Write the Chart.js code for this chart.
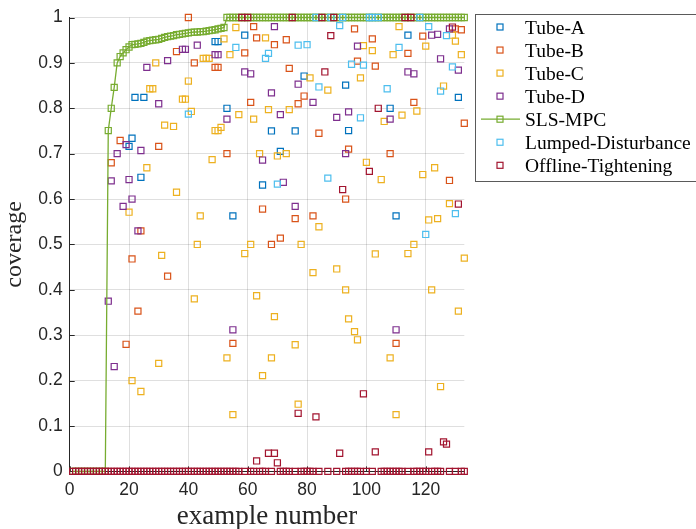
<!DOCTYPE html>
<html><head><meta charset="utf-8">
<script src="https://cdn.jsdelivr.net/npm/chart.js@4.4.1/dist/chart.umd.min.js"></script>
<style>html,body{margin:0;padding:0;background:#fff;overflow:hidden}canvas{display:block}</style>
</head><body>
<canvas id="c" width="696" height="529"></canvas>
<script>
// ---------- data ----------
const seriesNames = ['Tube-A','Tube-B','Tube-C','Tube-D','SLS-MPC','Lumped-Disturbance','Offline-Tightening'];
const seriesColors = ['#0072BD','#D95319','#EDB120','#7E2F8E','#77AC30','#4DBEEE','#A2142F'];
const xTickValues = [0,20,40,60,80,100,120];
const yTickValues = [0,0.1,0.2,0.3,0.4,0.5,0.6,0.7,0.8,0.9,1];
const yTickLabels = ['0','0.1','0.2','0.3','0.4','0.5','0.6','0.7','0.8','0.9','1'];
const exampleNumbers = Array.from({length:133},(_,i)=>i+1);

const tubeA = [[20,0.716],[21,0.734],[22,0.824],[24,0.648],[25,0.824],[49,0.947],[50,0.947],[53,0.80],[55,0.563],[59,0.961],[65,0.631],[68,0.75],[71,0.705],[76,0.75],[79,0.871],[93,0.851],[94,0.751],[108,0.80],[110,0.563],[114,0.961],[131,0.824]];
const tubeB = [[14,0.68],[17,0.729],[19,0.28],[21,0.468],[23,0.353],[24,0.53],[30,0.716],[33,0.43],[36,0.925],[40,1.0],[42,0.90],[49,0.89],[50,0.89],[53,0.70],[55,0.282],[59,0.922],[61,0.813],[62,0.98],[63,0.955],[65,0.578],[68,0.50],[69,0.94],[71,0.514],[73,0.951],[74,0.888],[76,0.557],[77,0.81],[79,0.827],[82,0.563],[84,0.745],[93,0.60],[94,0.71],[96,0.975],[97,0.904],[102,0.953],[103,0.893],[108,0.70],[110,0.282],[114,0.921],[116,0.813],[119,0.959],[128,0.641],[130,0.975],[132,0.973],[133,0.767]];
const tubeC = [[20,0.571],[21,0.20],[24,0.176],[26,0.669],[27,0.843],[28,0.843],[29,0.90],[30,0.238],[31,0.476],[32,0.763],[35,0.76],[36,0.615],[38,0.82],[39,0.82],[40,0.86],[41,0.793],[42,0.38],[43,0.50],[44,0.563],[45,0.91],[46,0.91],[47,0.91],[48,0.687],[49,0.751],[50,0.751],[51,0.758],[52,0.953],[53,0.25],[54,0.918],[55,0.125],[56,0.978],[57,0.786],[59,0.48],[61,0.50],[62,0.776],[63,0.387],[64,0.70],[65,0.211],[66,0.955],[67,0.797],[68,0.25],[69,0.341],[70,0.695],[73,0.70],[74,0.797],[76,0.279],[77,0.148],[78,0.50],[81,0.867],[82,0.438],[84,0.539],[87,0.84],[90,0.446],[93,0.40],[94,0.336],[96,0.308],[97,0.29],[98,0.867],[99,0.938],[100,0.681],[102,0.927],[103,0.479],[105,0.643],[106,0.771],[108,0.25],[109,0.918],[110,0.125],[111,0.98],[112,0.785],[114,0.48],[116,0.50],[117,0.794],[119,0.654],[120,0.937],[121,0.554],[122,0.40],[123,0.669],[124,0.557],[125,0.187],[126,0.849],[128,0.59],[129,0.961],[130,0.948],[131,0.353],[132,0.918],[133,0.47]];
const tubeD = [[13,0.375],[14,0.64],[15,0.231],[16,0.70],[18,0.584],[19,0.72],[20,0.643],[21,0.60],[23,0.53],[24,0.707],[26,0.89],[30,0.81],[33,0.905],[38,0.93],[39,0.93],[43,0.939],[49,0.918],[50,0.918],[53,0.776],[55,0.312],[59,0.88],[61,0.876],[65,0.686],[68,0.834],[69,0.98],[71,0.786],[72,0.637],[76,0.584],[77,0.853],[82,0.813],[90,0.78],[93,0.70],[94,0.792],[97,0.937],[108,0.776],[110,0.312],[114,0.88],[116,0.876],[122,0.961],[124,0.963],[125,0.909],[128,0.975],[131,0.884]];
const slsMpc = [0,0,0,0,0,0,0,0,0,0,0,0,0.751,0.80,0.846,0.90,0.914,0.922,0.929,0.935,0.94,0.941,0.942,0.943,0.945,0.948,0.949,0.95,0.951,0.952,0.954,0.956,0.958,0.959,0.96,0.962,0.963,0.964,0.965,0.966,0.967,0.968,0.968,0.969,0.969,0.97,0.971,0.972,0.973,0.975,0.976,0.978,
1,1,1,1,1,1,1,1,1,1,1,1,1,1,1,1,1,1,1,1,1,1,1,1,1,1,1,1,1,1,1,1,1,1,1,1,1,1,1,1,1,1,1,1,1,1,1,1,1,1,1,1,1,1,1,1,1,1,1,1,1,1,1,1,1,1,1,1,1,1,1,1,1,1,1,1,1,1,1,1,1];
const lumped = [[40,0.787],[56,0.934],[66,0.91],[67,0.921],[70,0.633],[77,0.939],[80,0.94],[83,1],[84,0.847],[87,0.646],[88,1],[91,0.982],[92,1],[95,0.897],[98,0.779],[99,0.895],[101,1],[102,1],[104,1],[107,0.843],[111,0.934],[118,1],[120,0.522],[121,0.98],[125,0.838],[127,0.96],[129,0.891],[130,0.568]];
const offline = [0,0,0,0,0,0,0,0,0,0,0,0,0,0,0,0,0,0,0,0,0,0,0,0,0,0,0,0,0,0,0,0,0,0,0,0,0,0,0,0,0,0,0,0,0,0,0,0,0,0,0,0,0,0,0,0,0,
1,0,1,0,0,0.023,0,0,0,0.04,0,0.04,0.019,0,0,0,0,1,0,0.128,0,0,0,0,0,0.12,0,1,0.88,0,0.96,1,0,0.04,0.621,0,0,0,0,0,0,0.171,0,0.661,0,0.043,0.80,
0,0,0,0,0,0,0,0,1,0,1,0,0,0,0,0,0.043,0,0,0,0,0.065,0.06,0,0.979,0,0.589,0,0];

// ---------- build ----------
const fromPairs = p => p.map(([x,y]) => ({x, y}));
const fromFull = v => v.map((y,i) => ({x: exampleNumbers[i], y}));
const seriesData = [fromPairs(tubeA), fromPairs(tubeB), fromPairs(tubeC), fromPairs(tubeD), fromFull(slsMpc), fromPairs(lumped), fromFull(offline)];

const datasets = seriesNames.map((name, k) => ({
  label: name,
  data: seriesData[k],
  showLine: name === 'SLS-MPC',
  borderColor: seriesColors[k],
  borderWidth: 1.3,
  backgroundColor: 'rgba(0,0,0,0)',
  pointStyle: 'rect',
  pointRadius: 4.3,
  pointHoverRadius: 4.3,
  pointBorderWidth: 1.2,
  pointBorderColor: seriesColors[k],
  pointBackgroundColor: 'rgba(0,0,0,0)',
  tension: 0,
  clip: false,
  order: seriesNames.length - k
}));

const AX = '#262626';
const GRID = 'rgba(38,38,38,0.15)';

const tickMarks = {
  id: 'tickMarks',
  beforeDatasetsDraw(chart) {
    const {ctx, chartArea: a, scales: {x, y}} = chart;
    ctx.save();
    ctx.strokeStyle = AX; ctx.lineWidth = 1;
    ctx.beginPath();
    xTickValues.forEach(v => { const px = Math.round(x.getPixelForValue(v)) + 0.5; ctx.moveTo(px, a.bottom); ctx.lineTo(px, a.bottom - 5); });
    yTickValues.forEach(v => { const py = Math.round(y.getPixelForValue(v)) + 0.5; ctx.moveTo(a.left, py); ctx.lineTo(a.left + 5, py); });
    ctx.stroke();
    ctx.restore();
  }
};

const matlabLegend = {
  id: 'matlabLegend',
  afterDraw(chart) {
    const ctx = chart.ctx;
    ctx.save();
    ctx.fillStyle = '#fff';
    ctx.fillRect(475.5, 14.5, 240, 167);
    ctx.strokeStyle = '#5a5a5a'; ctx.lineWidth = 1;
    ctx.strokeRect(475.5, 14.5, 240, 167);
    ctx.font = '19.5px "Liberation Serif", "Times New Roman", serif';
    ctx.textBaseline = 'alphabetic';
    ctx.textAlign = 'left';
    chart.data.datasets.forEach((ds, i) => {
      const yy = 27 + i * 23.05;
      ctx.strokeStyle = ds.borderColor;
      ctx.lineWidth = 1.2;
      if (ds.showLine) {
        ctx.beginPath(); ctx.moveTo(481, yy); ctx.lineTo(520, yy); ctx.stroke();
      }
      ctx.strokeRect(500 - 3, yy - 3, 6, 6);
      ctx.fillStyle = '#000';
      ctx.fillText(ds.label, 525, yy + 6.5);
    });
    ctx.restore();
  }
};

new Chart(document.getElementById('c'), {
  type: 'scatter',
  data: { datasets },
  options: {
    responsive: false,
    animation: false,
    events: [],
    layout: { padding: { top: 14.4, right: 231.7, left: 0, bottom: 0 } },
    plugins: { legend: { display: false }, tooltip: { enabled: false } },
    scales: {
      x: {
        type: 'linear', position: 'bottom', min: 0, max: 133,
        afterBuildTicks: s => { s.ticks = xTickValues.map(v => ({value: v})); },
        afterFit: s => { s.height = 57.6; },
        ticks: { color: AX, padding: 8.5, maxRotation: 0, autoSkip: false,
                 font: { family: '"Liberation Sans", Arial, sans-serif', size: 17.5 },
                 callback: v => String(v) },
        grid: { color: GRID, drawTicks: false },
        border: { color: AX, width: 1 },
        title: { display: true, text: 'example number', color: AX, padding: 0,
                 font: { family: '"Liberation Serif", "Times New Roman", serif', size: 27, lineHeight: 0.9 } }
      },
      y: {
        type: 'linear', min: 0, max: 1,
        afterBuildTicks: s => { s.ticks = yTickValues.map(v => ({value: v})); },
        afterFit: s => { s.width = 69.7; },
        ticks: { color: AX, padding: 7,
                 font: { family: '"Liberation Sans", Arial, sans-serif', size: 17.5 },
                 callback: (v, i) => yTickLabels[i] },
        grid: { color: GRID, drawTicks: false },
        border: { color: AX, width: 1 },
        title: { display: true, text: 'coverage', color: AX, padding: 0,
                 font: { family: '"Liberation Serif", "Times New Roman", serif', size: 24, lineHeight: 1.2 } }
      }
    }
  },
  plugins: [tickMarks, matlabLegend]
});
</script>
</body></html>
